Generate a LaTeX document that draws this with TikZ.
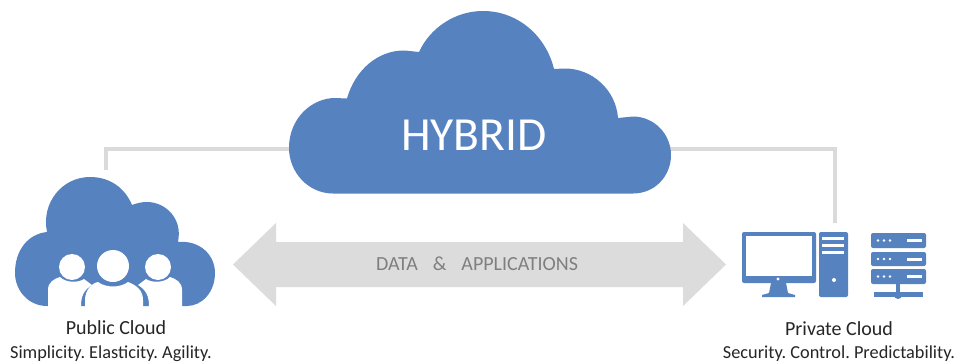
\documentclass[tikz,border=0pt]{standalone}
\usepackage{fontspec}
\setmainfont{Carlito}
\definecolor{cloudblue}{HTML}{5682C0}
\definecolor{linegray}{HTML}{DADADA}
\definecolor{arrowgray}{HTML}{DCDCDC}
\definecolor{labelgray}{HTML}{7F7F7F}
\definecolor{textdark}{HTML}{262626}
\tikzset{
  blueshape/.style={fill=cloudblue,draw=none},
  whiteshape/.style={fill=white,draw=none},
  linkline/.style={draw=linegray,line width=4pt},
  caption/.style={text=textdark,inner sep=0pt,anchor=center},
  namefont/.style={font=\fontsize{20}{24}\selectfont},
  subfont/.style={font=\fontsize{18.3}{22}\selectfont\frenchspacing},
}
\begin{document}
\begin{tikzpicture}[x=1pt,y=-1pt]
\useasboundingbox (0,0) rectangle (972,364);
\fill[white] (0,0) rectangle (972,364);
% named anchors
\coordinate (pubtop) at (106,170);
\coordinate (hybL) at (292,149);
\coordinate (hybR) at (668,149);
\coordinate (privtop) at (835,223);
% connectors
\draw[linkline] (pubtop) |- (hybL);
\draw[linkline] (hybR) -| (privtop);
% double arrow
\fill[arrowgray] (233,264.5) -- (276,223) -- (276,242) -- (683,242) -- (683,223) -- (726,264.5) -- (683,306) -- (683,287) -- (276,287) -- (276,306) -- cycle;
\node[text=labelgray,inner sep=0pt,font=\fontsize{20}{24}\selectfont] (datalabel) at (477,264) {DATA\hspace{0.75em}\&\hspace{0.75em}APPLICATIONS};
% hybrid cloud
\fill[blueshape] (333,193.5) .. controls (308,193.5) and (289,172) .. (289,148)
  .. controls (289,118) and (312,98) .. (335,98) -- (347,98.5)
  .. controls (355,70) and (378,50) .. (405,50.5) -- (419,52)
  .. controls (430,28) and (455,11) .. (483,11)
  .. controls (518,11) and (546,36) .. (554,69)
  -- (564,68.5) .. controls (592,68) and (616,90) .. (618,118)
  -- (633,116.5) .. controls (654,116.5) and (671,134) .. (671,155)
  .. controls (671,176) and (655,193.5) .. (633,193.5) -- cycle;
\node[text=white,inner sep=0pt,font=\fontsize{47.5}{52}\selectfont] (hybrid) at (474,135) {HYBRID};
% public cloud
\fill[blueshape] (47,306) .. controls (28,306) and (15,290) .. (15,273)
  .. controls (15,250) and (28,234) .. (47,232)
  .. controls (41,203) and (62,177) .. (90,177)
  .. controls (110,177) and (125,188) .. (132,205)
  .. controls (137,203) and (142,202) .. (147,202)
  .. controls (165,202) and (183,218) .. (178,242)
  .. controls (200,240) and (215,255) .. (215,273)
  .. controls (215,292) and (202,306) .. (187,306) -- cycle;
\fill[whiteshape] (72,267) circle (13);
\fill[whiteshape] (113,266) circle (16);
\fill[whiteshape] (158,267) circle (13);
\fill[whiteshape] (48,312) -- (48,290) .. controls (48,282) and (54,279) .. (60,277) .. controls (66,283) and (78,283) .. (84,279) -- (92,285) .. controls (84,290) and (81,296) .. (81,306) -- (81,312) -- cycle;
\fill[whiteshape] (182,312) -- (182,290) .. controls (182,282) and (176,279) .. (170,277) .. controls (164,283) and (152,283) .. (146,279) -- (138,285) .. controls (146,290) and (149,296) .. (149,306) -- (149,312) -- cycle;
\fill[whiteshape] (85,312) -- (85,300) .. controls (85,290) and (92,283) .. (98,282) .. controls (106,288) and (120,288) .. (128,282) .. controls (136,285) and (143,290) .. (143,300) -- (143,312) -- cycle;
% monitor
\fill[blueshape,rounded corners=2pt] (742,232) rectangle (816,283);
\fill[whiteshape] (746,236) rectangle (812,276);
\fill[whiteshape] (778,279) circle (1.7);
\fill[blueshape] (771,283) -- (786,283) -- (788,293) -- (795,295) -- (795,297) -- (762,297) -- (762,295) -- (769,293) -- cycle;
% tower
\fill[blueshape,rounded corners=2pt] (819,232) rectangle (848,297);
\foreach \yy in {238,245,252} \fill[whiteshape] (822,\yy-1.5) rectangle (844,\yy+1.5);
\fill[whiteshape] (834,280) circle (2);
% server
\foreach \yy/\hh in {233/248,252/266,269/284}{
  \fill[blueshape,rounded corners=2pt] (871,\yy) rectangle (926,\hh);
  \foreach \xx in {878,884,890} \fill[whiteshape] (\xx,{(\yy+\hh)/2}) circle (1.4);
  \fill[whiteshape] (907,{(\yy+\hh)/2-1.5}) rectangle (922,{(\yy+\hh)/2+1.5});
}
\fill[blueshape] (896,284) rectangle (900,294);
\fill[blueshape] (874,292) rectangle (923,297);
\fill[blueshape] (898,295) circle (4);
% captions
\node[caption,namefont] (pubname) at (116,328) {Public Cloud};
\node[caption,subfont] (pubsub) at (111,354) {Simplicity. Elasticity. Agility.};
\node[caption,namefont] (privname) at (839,329) {Private Cloud};
\node[caption,subfont] (privsub) at (839,354) {Security. Control. Predictability.};
\end{tikzpicture}
\end{document}
